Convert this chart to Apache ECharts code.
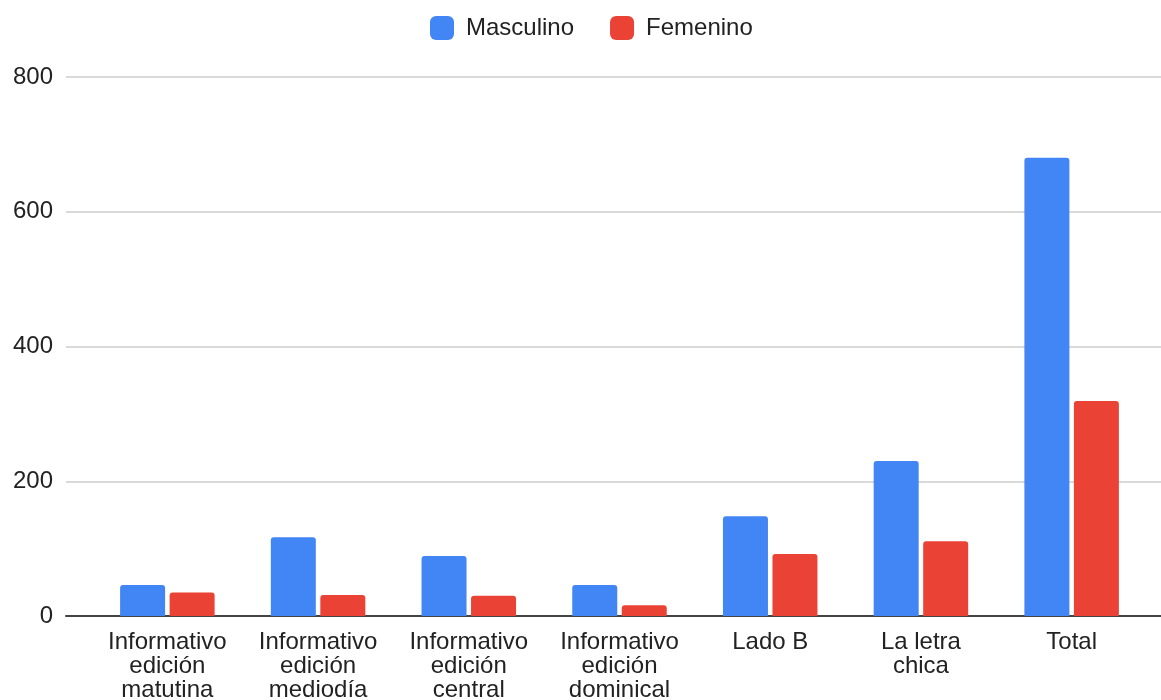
<!DOCTYPE html>
<html>
<head>
<meta charset="utf-8">
<script src="https://cdn.jsdelivr.net/npm/echarts@6/dist/echarts.min.js"></script>
<style>
html,body{margin:0;padding:0;background:#fff;}
#chart{width:1161px;height:700px;}
</style>
</head>
<body>
<div id="chart"></div>
<script>
var categories = [
  "Informativo\nedición\nmatutina",
  "Informativo\nedición\nmediodía",
  "Informativo\nedición\ncentral",
  "Informativo\nedición\ndominical",
  "Lado B",
  "La letra\nchica",
  "Total"
];
var masculino = [46, 117, 89, 46, 148, 230, 680];
var femenino = [35, 31, 30, 16, 92, 111, 319];
var yTicks = { min: 0, max: 800, interval: 200 };

var FONT = "'Liberation Sans', Arial, sans-serif";
var chart = echarts.init(document.getElementById('chart'));
chart.setOption({
  backgroundColor: '#ffffff',
  animation: false,
  textStyle: { fontFamily: FONT },
  legend: {
    top: 11,
    left: 425,
    icon: 'roundRect',
    itemWidth: 24,
    itemHeight: 24,
    itemGap: 36,
    textStyle: { fontSize: 24, color: '#222', fontFamily: FONT, padding: [0, 0, 0, 7] },
    data: ['Masculino', 'Femenino']
  },
  grid: [
    { left: 66, right: 0, top: 77, bottom: 84, containLabel: false, outerBoundsMode: 'none' },
    { left: 92, right: 14, top: 77, bottom: 84, containLabel: false, outerBoundsMode: 'none' }
  ],
  xAxis: [
    {
      gridIndex: 0, type: 'value', min: 0, max: 1,
      axisLabel: { show: false }, axisTick: { show: false }, splitLine: { show: false },
      axisLine: { show: true, onZero: true, lineStyle: { color: '#444', width: 2 } }
    },
    {
      gridIndex: 1, type: 'category', data: categories,
      axisLine: { show: false }, axisTick: { show: false },
      axisLabel: { fontSize: 24, color: '#222', lineHeight: 24, margin: 14, fontFamily: FONT, interval: 0 }
    }
  ],
  yAxis: [
    {
      gridIndex: 0, type: 'value', min: yTicks.min, max: yTicks.max, interval: yTicks.interval,
      axisLine: { show: false }, axisTick: { show: false },
      axisLabel: { fontSize: 24, color: '#222', margin: 13, fontFamily: FONT },
      splitLine: { lineStyle: { color: '#cccccc', width: 1.5 } }
    },
    {
      gridIndex: 1, type: 'value', min: yTicks.min, max: yTicks.max, interval: yTicks.interval,
      show: false, splitLine: { show: false }
    }
  ],
  series: [
    {
      name: 'Masculino', type: 'bar', xAxisIndex: 1, yAxisIndex: 1,
      data: masculino, barWidth: 45, barGap: '10%',
      itemStyle: { color: '#4285F4', borderRadius: [3, 3, 0, 0] }
    },
    {
      name: 'Femenino', type: 'bar', xAxisIndex: 1, yAxisIndex: 1,
      data: femenino, barWidth: 45, barGap: '10%',
      itemStyle: { color: '#EA4335', borderRadius: [3, 3, 0, 0] }
    }
  ]
});
</script>
</body>
</html>
